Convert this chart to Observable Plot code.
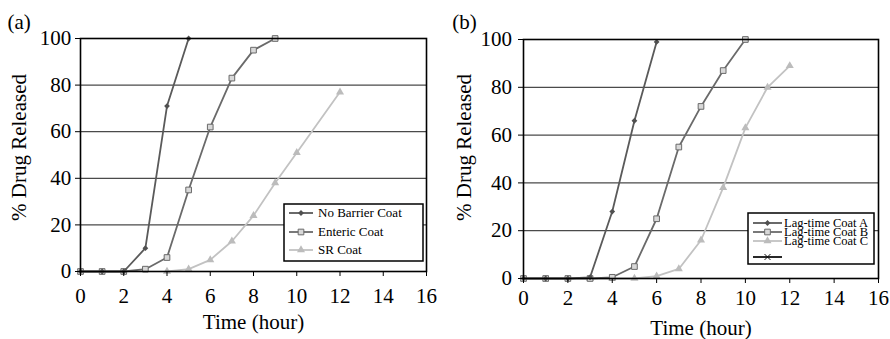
<!DOCTYPE html>
<html>
<head>
<meta charset="utf-8">
<script src="https://cdn.jsdelivr.net/npm/d3@7"></script>
<script src="https://cdn.jsdelivr.net/npm/@observablehq/plot@0.6"></script>
<style>
  html, body { margin: 0; padding: 0; background: #fff; }
  #chart { position: relative; width: 890px; height: 339px; overflow: hidden;
           font-family: "Liberation Serif", Tinos, "Times New Roman", Times, "DejaVu Serif", serif; }
  .panel { position: absolute; top: 0; width: 445px; height: 339px; }
  .panel svg { font-family: "Liberation Serif", Tinos, "Times New Roman", Times, "DejaVu Serif", serif !important; }
  .panel svg text { font-family: "Liberation Serif", Tinos, "Times New Roman", Times, "DejaVu Serif", serif !important; }
  .panel svg.legend { position: absolute; left: 0; top: 0; pointer-events: none; }
</style>
</head>
<body>
<div id="chart"></div>
<script>
// ---- Panel (a): release profiles by coat type ----
const noBarrierHours = [0, 1, 2, 3, 4, 5];
const noBarrierPct   = [0, 0, 0, 10, 71, 100];
const entericHours   = [0, 1, 2, 3, 4, 5, 6, 7, 8, 9];
const entericPct     = [0, 0, 0, 1, 6, 35, 62, 83, 95, 100];
const srHours        = [4, 5, 6, 7, 8, 9, 10, 12];
const srPct          = [0, 1, 5, 13, 24, 38, 51, 77];

// ---- Panel (b): release profiles by lag-time coat ----
const coatAHours = [0, 1, 2, 3, 4, 5, 6];
const coatAPct   = [0, 0, 0, 0.5, 28, 66, 99];
const coatBHours = [0, 1, 2, 3, 4, 5, 6, 7, 8, 9, 10];
const coatBPct   = [0, 0, 0, 0, 0.5, 5, 25, 55, 72, 87, 100];
const coatCHours = [3, 4, 5, 6, 7, 8, 9, 10, 11, 12];
const coatCPct   = [0, 0, 0, 1, 4, 16, 38, 63, 80, 89];

// ---- Axis ticks, labels ----
const xTicks = [0, 2, 4, 6, 8, 10, 12, 14, 16];
const yTicks = [0, 20, 40, 60, 80, 100];
const gridValues = [20, 40, 60, 80];
const xTitle = "Time (hour)";
const yTitle = "% Drug Released";
const legendA = ["No Barrier Coat", "Enteric Coat", "SR Coat"];
const legendB = ["Lag-time Coat A", "Lag-time Coat B", "Lag-time Coat C", ""];

const FONT = "'Liberation Serif', Tinos, 'Times New Roman', Times, 'DejaVu Serif', serif";

// Marker / line styles (dark diamond, light-filled square, pale triangle, black cross)
const STYLES = [
  {line: "#5a5a5a", symbol: "diamond2", r: 2.6, fill: "#505050", stroke: "none"},
  {line: "#6a6a6a", symbol: "square",   r: 3.2, fill: "#d8d8d8", stroke: "#6a6a6a"},
  {line: "#c2c2c2", symbol: "triangle", r: 3.0, fill: "#bcbcbc", stroke: "none"},
  {line: "#111111", symbol: "times",    r: 2.8, fill: "none",    stroke: "#111111"}
];

function rows(hours, pct) {
  return hours.map((h, i) => ({hour: h, pct: pct[i]}));
}

function seriesMarks(data, st) {
  return [
    Plot.line(data, {x: "hour", y: "pct", stroke: st.line, strokeWidth: 1.8}),
    Plot.dot(data, {x: "hour", y: "pct", symbol: st.symbol, r: st.r,
                    fill: st.fill, stroke: st.stroke, strokeWidth: 1})
  ];
}

function panel(cfg) {
  const drawOrder = cfg.series.map((s, i) => ({...s, st: STYLES[i]})).reverse();
  return Plot.plot({
    width: 445,
    height: 339,
    marginLeft: cfg.m.left,
    marginRight: cfg.m.right,
    marginTop: cfg.m.top,
    marginBottom: cfg.m.bottom,
    style: {fontFamily: FONT, fontSize: "21px", color: "black", background: "transparent"},
    x: {domain: [0, 16]},
    y: {domain: [0, 100]},
    marks: [
      Plot.ruleY(gridValues, {stroke: "#4a4a4a", strokeWidth: 1.2}),
      ...drawOrder.flatMap(s => seriesMarks(rows(s.hours, s.pct), s.st)),
      Plot.frame({stroke: "black", strokeWidth: 1.6}),
      Plot.axisX(xTicks, {tickSize: 5, tickPadding: cfg.xPad, fontSize: 21, label: null,
                          fontFamily: FONT, tickFormat: d => String(d)}),
      Plot.axisY(yTicks, {tickSize: 5, tickPadding: cfg.yPad, fontSize: 21, label: null,
                          fontFamily: FONT, tickFormat: d => String(d)}),
      Plot.text([xTitle], {frameAnchor: "bottom", textAnchor: "middle", lineAnchor: "top",
                           dy: cfg.xTitleDy, fontSize: 21, fontFamily: FONT, fill: "black"}),
      Plot.text([yTitle], {frameAnchor: "left", textAnchor: "middle", rotate: -90, lineAnchor: "top",
                           dx: cfg.yTitleDx, dy: cfg.yTitleDy, fontSize: 21, fontFamily: FONT,
                           fill: "black"}),
      Plot.text([cfg.tag], {frameAnchor: "top-left", textAnchor: "start", lineAnchor: "middle",
                            dx: cfg.tagDx, dy: cfg.tagDy, fontSize: 21, fontFamily: FONT,
                            fill: "black"})
    ]
  });
}

// Legend box drawn with d3 next to each plot
function legend(container, cfg) {
  const L = cfg.legend;
  const svg = d3.select(container).append("svg")
    .attr("class", "legend").attr("width", 445).attr("height", 339);
  svg.append("rect")
    .attr("x", L.x).attr("y", L.y).attr("width", L.w).attr("height", L.h)
    .attr("fill", "white").attr("stroke", "black").attr("stroke-width", 1.5);
  const symbols = {diamond2: d3.symbolDiamond2, square: d3.symbolSquare,
                   triangle: d3.symbolTriangle, times: d3.symbolTimes};
  L.labels.forEach((label, i) => {
    const st = STYLES[i];
    const y = L.y + L.rows[i];
    const g = svg.append("g");
    g.append("line").attr("x1", L.x + L.sx0).attr("x2", L.x + L.sx1)
      .attr("y1", y).attr("y2", y).attr("stroke", st.line).attr("stroke-width", 1.8);
    const size = Math.PI * st.r * st.r;
    g.append("path")
      .attr("d", d3.symbol(symbols[st.symbol], size)())
      .attr("transform", `translate(${L.x + (L.sx0 + L.sx1) / 2},${y})`)
      .attr("fill", st.fill).attr("stroke", st.stroke).attr("stroke-width", 1);
    if (label) {
      g.append("text").attr("x", L.x + L.tx).attr("y", y).attr("dy", "0.32em")
        .style("font-family", FONT).style("font-size", L.fontSize + "px").attr("fill", "black")
        .text(label);
    }
  });
}

const panels = [
  {
    tag: "(a)", left: 0,
    series: [
      {hours: noBarrierHours, pct: noBarrierPct},
      {hours: entericHours, pct: entericPct},
      {hours: srHours, pct: srPct}
    ],
    m: {left: 80, right: 19, top: 38, bottom: 68},
    xPad: 12, yPad: 4.3,
    xTitleDy: 43, yTitleDx: -69, yTitleDy: -7.5, tagDx: -73, tagDy: -16.5,
    legend: {x: 284, y: 204, w: 139, h: 57, rows: [9, 28, 46], sx0: 5, sx1: 29, tx: 34,
             fontSize: 13, labels: legendA}
  },
  {
    tag: "(b)", left: 445,
    series: [
      {hours: coatAHours, pct: coatAPct},
      {hours: coatBHours, pct: coatBPct},
      {hours: coatCHours, pct: coatCPct}
    ],
    m: {left: 78, right: 12, top: 39, bottom: 61},
    xPad: 6.5, yPad: 6.6,
    xTitleDy: 42, yTitleDx: -67, yTitleDy: -11.5, tagDx: -71.3, tagDy: -17.5,
    legend: {x: 303, y: 213, w: 126, h: 51, rows: [10, 19, 28, 44], sx0: 5, sx1: 34, tx: 36,
             fontSize: 12.5, labels: legendB}
  }
];

const root = document.getElementById("chart");
for (const cfg of panels) {
  const div = document.createElement("div");
  div.className = "panel";
  div.style.left = cfg.left + "px";
  div.appendChild(panel(cfg));
  root.appendChild(div);
  legend(div, cfg);
}
</script>
</body>
</html>
